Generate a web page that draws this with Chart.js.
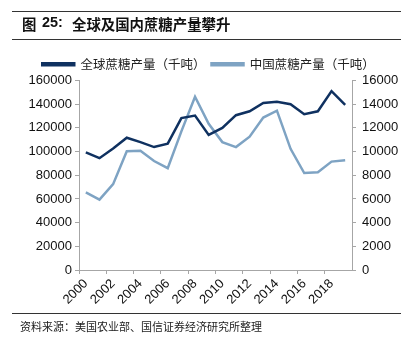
<!DOCTYPE html>
<html>
<head>
<meta charset="utf-8">
<script src="https://cdn.jsdelivr.net/npm/chart.js@4"></script>
<style>
  body { margin: 0; background: #fff; }
  #wrap { position: relative; width: 417px; height: 343px; overflow: hidden; }
  #graph1 { position: absolute; left: 0; top: 0; }
  .rule { position: absolute; left: 12px; width: 389px; height: 0; border-top: 1px solid #333; }
  .title { position: absolute; top: 13px; font: bold 14.4px "Noto Sans CJK SC", sans-serif; color: #111; white-space: nowrap; }
  .num { font-family: "Liberation Sans", Arial, sans-serif; top: 14px; }
  #source { position: absolute; left: 20px; top: 318px; font: 11px "Noto Sans CJK SC", sans-serif; color: #222; }
</style>
</head>
<body>
<div id="wrap">
  <canvas id="graph1" width="417" height="343"></canvas>
  <div class="rule" style="top:11px"></div>
  <div class="title" style="left:22px">图</div>
  <div class="title num" style="left:42px">25:</div>
  <div class="title" style="left:72px">全球及国内蔗糖产量攀升</div>
  <div class="rule" style="top:39px"></div>
  <div class="rule" style="top:313px"></div>
  <div id="source">资料来源：美国农业部、国信证券经济研究所整理</div>
</div>
<script>
var years = ['2000','2001','2002','2003','2004','2005','2006','2007','2008','2009',
             '2010','2011','2012','2013','2014','2015','2016','2017','2018','2019'];
var worldSugar = [99400, 94400, 102500, 111700, 108000, 103800, 106700, 128300, 130400, 114000,
                  120000, 130700, 134000, 141000, 142000, 140000, 131600, 134000, 151000, 139500];
var chinaSugar = [6550, 5940, 7250, 10030, 10060, 9200, 8600, 11700, 14630, 12350,
                  10800, 10380, 11260, 12870, 13450, 10230, 8190, 8250, 9150, 9270];
var leftTicks = [0, 160000, 20000];
var rightTicks = [0, 16000, 2000];

var axisGray = '#a6a6a6';
var tickFont = { family: '"Liberation Sans", Arial, sans-serif', size: 13 };

var ctx = document.getElementById('graph1').getContext('2d');

var data = {
  labels: years,
  datasets: [{
    label: '全球蔗糖产量（千吨）',
    data: worldSugar,
    yAxisID: 'y',
    borderColor: '#0f3160',
    backgroundColor: '#0f3160',
    borderWidth: 2.5,
    pointRadius: 0,
    tension: 0
  }, {
    label: '中国蔗糖产量（千吨）',
    data: chinaSugar,
    yAxisID: 'y2',
    borderColor: '#7ea3c3',
    backgroundColor: '#7ea3c3',
    borderWidth: 2.5,
    pointRadius: 0,
    tension: 0
  }]
};

var graph1 = new Chart(ctx, {
  type: 'line',
  data: data,
  options: {
    responsive: false,
    animation: false,
    layout: { padding: { top: 52, left: 0, right: 0, bottom: 0 } },
    plugins: {
      tooltip: { enabled: false },
      legend: {
        display: true,
        position: 'top',
        labels: {
          boxWidth: 32,
          boxHeight: 2,
          padding: 6,
          color: '#222',
          font: { family: '"Noto Sans CJK SC", sans-serif', size: 12.5 }
        }
      }
    },
    scales: {
      x: {
        type: 'category',
        offset: true,
        border: { color: axisGray, width: 1 },
        grid: {
          offset: true,
          drawOnChartArea: false,
          drawTicks: true,
          tickLength: 4,
          color: function (c) { return c.index % 2 === 0 ? axisGray : 'rgba(0,0,0,0)'; }
        },
        ticks: {
          autoSkip: false,
          minRotation: 45,
          maxRotation: 45,
          padding: 2,
          color: '#111',
          font: tickFont,
          callback: function (v, i) { return i % 2 === 0 ? this.getLabelForValue(v) : ''; }
        },
        afterFit: function (scale) { scale.height = 73; }
      },
      y: {
        position: 'left',
        min: leftTicks[0],
        max: leftTicks[1],
        border: { color: axisGray, width: 1 },
        grid: { drawOnChartArea: false, tickLength: 4, color: axisGray },
        ticks: { stepSize: leftTicks[2], padding: 3, color: '#111', font: tickFont,
                 callback: function (v) { return v; } },
        afterFit: function (scale) { scale.width = 79; }
      },
      y2: {
        position: 'right',
        min: rightTicks[0],
        max: rightTicks[1],
        border: { color: axisGray, width: 1 },
        grid: { drawOnChartArea: false, tickLength: 4, color: axisGray },
        ticks: { stepSize: rightTicks[2], padding: 6, color: '#111', font: tickFont,
                 callback: function (v) { return v; } },
        afterFit: function (scale) { scale.width = 65; }
      }
    }
  }
});
</script>
</body>
</html>
